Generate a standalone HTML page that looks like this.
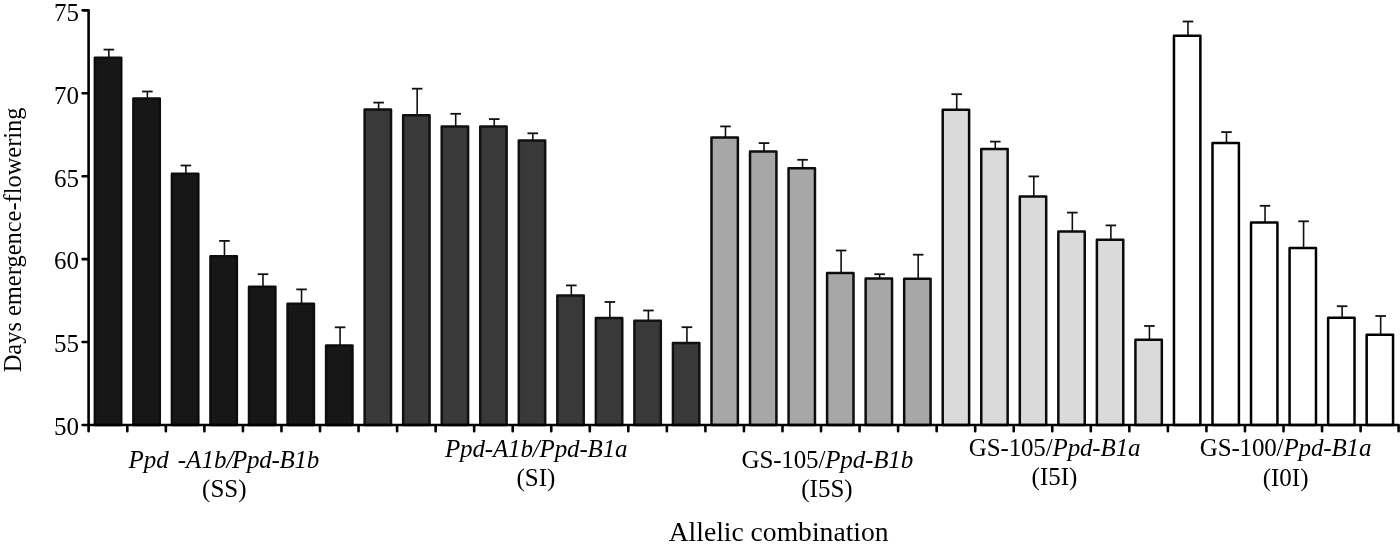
<!DOCTYPE html>
<html><head><meta charset="utf-8"><style>
html,body{margin:0;padding:0;background:#fff;}
body{width:1400px;height:547px;overflow:hidden;}
svg{display:block;}
.t{font-family:"Liberation Serif",serif;font-size:25px;fill:#000;white-space:pre;}
svg{will-change:transform;}
.i{font-style:italic;}
</style></head><body>
<svg width="1400" height="547" viewBox="0 0 1400 547">
<rect width="1400" height="547" fill="#fff"/>
<path d="M108.84 57.60V49.60" stroke="#111" stroke-width="1.6"/>
<path d="M103.54 49.60H114.14" stroke="#111" stroke-width="1.8"/>
<rect x="94.84" y="57.85" width="26.40" height="367.15" fill="#171717" stroke="#0d0d0d" stroke-width="2.5" stroke-linejoin="round"/>
<path d="M147.38 98.30V91.50" stroke="#111" stroke-width="1.6"/>
<path d="M142.08 91.50H152.68" stroke="#111" stroke-width="1.8"/>
<rect x="133.38" y="98.55" width="26.40" height="326.45" fill="#171717" stroke="#0d0d0d" stroke-width="2.5" stroke-linejoin="round"/>
<path d="M185.92 173.40V165.50" stroke="#111" stroke-width="1.6"/>
<path d="M180.62 165.50H191.22" stroke="#111" stroke-width="1.8"/>
<rect x="171.92" y="173.65" width="26.40" height="251.35" fill="#171717" stroke="#0d0d0d" stroke-width="2.5" stroke-linejoin="round"/>
<path d="M224.46 255.90V240.90" stroke="#111" stroke-width="1.6"/>
<path d="M219.16 240.90H229.76" stroke="#111" stroke-width="1.8"/>
<rect x="210.46" y="256.15" width="26.40" height="168.85" fill="#171717" stroke="#0d0d0d" stroke-width="2.5" stroke-linejoin="round"/>
<path d="M263.00 286.60V274.20" stroke="#111" stroke-width="1.6"/>
<path d="M257.70 274.20H268.30" stroke="#111" stroke-width="1.8"/>
<rect x="249.00" y="286.85" width="26.40" height="138.15" fill="#171717" stroke="#0d0d0d" stroke-width="2.5" stroke-linejoin="round"/>
<path d="M301.54 303.40V289.40" stroke="#111" stroke-width="1.6"/>
<path d="M296.24 289.40H306.84" stroke="#111" stroke-width="1.8"/>
<rect x="287.54" y="303.65" width="26.40" height="121.35" fill="#171717" stroke="#0d0d0d" stroke-width="2.5" stroke-linejoin="round"/>
<path d="M340.08 345.30V327.30" stroke="#111" stroke-width="1.6"/>
<path d="M334.78 327.30H345.38" stroke="#111" stroke-width="1.8"/>
<rect x="326.08" y="345.55" width="26.40" height="79.45" fill="#171717" stroke="#0d0d0d" stroke-width="2.5" stroke-linejoin="round"/>
<path d="M378.62 109.30V102.60" stroke="#111" stroke-width="1.6"/>
<path d="M373.32 102.60H383.92" stroke="#111" stroke-width="1.8"/>
<rect x="364.62" y="109.55" width="26.40" height="315.45" fill="#393939" stroke="#111111" stroke-width="2.5" stroke-linejoin="round"/>
<path d="M417.16 115.10V88.70" stroke="#111" stroke-width="1.6"/>
<path d="M411.86 88.70H422.46" stroke="#111" stroke-width="1.8"/>
<rect x="403.16" y="115.35" width="26.40" height="309.65" fill="#393939" stroke="#111111" stroke-width="2.5" stroke-linejoin="round"/>
<path d="M455.70 126.20V113.80" stroke="#111" stroke-width="1.6"/>
<path d="M450.40 113.80H461.00" stroke="#111" stroke-width="1.8"/>
<rect x="441.70" y="126.45" width="26.40" height="298.55" fill="#393939" stroke="#111111" stroke-width="2.5" stroke-linejoin="round"/>
<path d="M494.24 126.20V119.10" stroke="#111" stroke-width="1.6"/>
<path d="M488.94 119.10H499.54" stroke="#111" stroke-width="1.8"/>
<rect x="480.24" y="126.45" width="26.40" height="298.55" fill="#393939" stroke="#111111" stroke-width="2.5" stroke-linejoin="round"/>
<path d="M532.78 140.30V133.30" stroke="#111" stroke-width="1.6"/>
<path d="M527.48 133.30H538.08" stroke="#111" stroke-width="1.8"/>
<rect x="518.78" y="140.55" width="26.40" height="284.45" fill="#393939" stroke="#111111" stroke-width="2.5" stroke-linejoin="round"/>
<path d="M571.32 295.20V285.40" stroke="#111" stroke-width="1.6"/>
<path d="M566.02 285.40H576.62" stroke="#111" stroke-width="1.8"/>
<rect x="557.32" y="295.45" width="26.40" height="129.55" fill="#393939" stroke="#111111" stroke-width="2.5" stroke-linejoin="round"/>
<path d="M609.86 317.70V302.00" stroke="#111" stroke-width="1.6"/>
<path d="M604.56 302.00H615.16" stroke="#111" stroke-width="1.8"/>
<rect x="595.86" y="317.95" width="26.40" height="107.05" fill="#393939" stroke="#111111" stroke-width="2.5" stroke-linejoin="round"/>
<path d="M648.40 320.50V310.50" stroke="#111" stroke-width="1.6"/>
<path d="M643.10 310.50H653.70" stroke="#111" stroke-width="1.8"/>
<rect x="634.40" y="320.75" width="26.40" height="104.25" fill="#393939" stroke="#111111" stroke-width="2.5" stroke-linejoin="round"/>
<path d="M686.94 342.80V327.20" stroke="#111" stroke-width="1.6"/>
<path d="M681.64 327.20H692.24" stroke="#111" stroke-width="1.8"/>
<rect x="672.94" y="343.05" width="26.40" height="81.95" fill="#393939" stroke="#111111" stroke-width="2.5" stroke-linejoin="round"/>
<path d="M725.48 137.30V126.40" stroke="#111" stroke-width="1.6"/>
<path d="M720.18 126.40H730.78" stroke="#111" stroke-width="1.8"/>
<rect x="711.48" y="137.55" width="26.40" height="287.45" fill="#a7a7a7" stroke="#0d0d0d" stroke-width="2.5" stroke-linejoin="round"/>
<path d="M764.02 151.20V143.10" stroke="#111" stroke-width="1.6"/>
<path d="M758.72 143.10H769.32" stroke="#111" stroke-width="1.8"/>
<rect x="750.02" y="151.45" width="26.40" height="273.55" fill="#a7a7a7" stroke="#0d0d0d" stroke-width="2.5" stroke-linejoin="round"/>
<path d="M802.56 168.10V159.80" stroke="#111" stroke-width="1.6"/>
<path d="M797.26 159.80H807.86" stroke="#111" stroke-width="1.8"/>
<rect x="788.56" y="168.35" width="26.40" height="256.65" fill="#a7a7a7" stroke="#0d0d0d" stroke-width="2.5" stroke-linejoin="round"/>
<path d="M841.10 272.70V250.50" stroke="#111" stroke-width="1.6"/>
<path d="M835.80 250.50H846.40" stroke="#111" stroke-width="1.8"/>
<rect x="827.10" y="272.95" width="26.40" height="152.05" fill="#a7a7a7" stroke="#0d0d0d" stroke-width="2.5" stroke-linejoin="round"/>
<path d="M879.64 278.20V274.20" stroke="#111" stroke-width="1.6"/>
<path d="M874.34 274.20H884.94" stroke="#111" stroke-width="1.8"/>
<rect x="865.64" y="278.45" width="26.40" height="146.55" fill="#a7a7a7" stroke="#0d0d0d" stroke-width="2.5" stroke-linejoin="round"/>
<path d="M918.18 278.50V254.70" stroke="#111" stroke-width="1.6"/>
<path d="M912.88 254.70H923.48" stroke="#111" stroke-width="1.8"/>
<rect x="904.18" y="278.75" width="26.40" height="146.25" fill="#a7a7a7" stroke="#0d0d0d" stroke-width="2.5" stroke-linejoin="round"/>
<path d="M956.72 109.40V94.20" stroke="#111" stroke-width="1.6"/>
<path d="M951.42 94.20H962.02" stroke="#111" stroke-width="1.8"/>
<rect x="942.72" y="109.65" width="26.40" height="315.35" fill="#dadada" stroke="#0a0a0a" stroke-width="2.5" stroke-linejoin="round"/>
<path d="M995.26 148.70V141.60" stroke="#111" stroke-width="1.6"/>
<path d="M989.96 141.60H1000.56" stroke="#111" stroke-width="1.8"/>
<rect x="981.26" y="148.95" width="26.40" height="276.05" fill="#dadada" stroke="#0a0a0a" stroke-width="2.5" stroke-linejoin="round"/>
<path d="M1033.80 196.20V176.40" stroke="#111" stroke-width="1.6"/>
<path d="M1028.50 176.40H1039.10" stroke="#111" stroke-width="1.8"/>
<rect x="1019.80" y="196.45" width="26.40" height="228.55" fill="#dadada" stroke="#0a0a0a" stroke-width="2.5" stroke-linejoin="round"/>
<path d="M1072.34 231.20V212.60" stroke="#111" stroke-width="1.6"/>
<path d="M1067.04 212.60H1077.64" stroke="#111" stroke-width="1.8"/>
<rect x="1058.34" y="231.45" width="26.40" height="193.55" fill="#dadada" stroke="#0a0a0a" stroke-width="2.5" stroke-linejoin="round"/>
<path d="M1110.88 239.40V225.40" stroke="#111" stroke-width="1.6"/>
<path d="M1105.58 225.40H1116.18" stroke="#111" stroke-width="1.8"/>
<rect x="1096.88" y="239.65" width="26.40" height="185.35" fill="#dadada" stroke="#0a0a0a" stroke-width="2.5" stroke-linejoin="round"/>
<path d="M1149.42 339.60V326.00" stroke="#111" stroke-width="1.6"/>
<path d="M1144.12 326.00H1154.72" stroke="#111" stroke-width="1.8"/>
<rect x="1135.42" y="339.85" width="26.40" height="85.15" fill="#dadada" stroke="#0a0a0a" stroke-width="2.5" stroke-linejoin="round"/>
<path d="M1187.96 35.40V21.50" stroke="#111" stroke-width="1.6"/>
<path d="M1182.66 21.50H1193.26" stroke="#111" stroke-width="1.8"/>
<rect x="1173.96" y="35.65" width="26.40" height="389.35" fill="#ffffff" stroke="#000000" stroke-width="2.5" stroke-linejoin="round"/>
<path d="M1226.50 142.80V132.10" stroke="#111" stroke-width="1.6"/>
<path d="M1221.20 132.10H1231.80" stroke="#111" stroke-width="1.8"/>
<rect x="1212.50" y="143.05" width="26.40" height="281.95" fill="#ffffff" stroke="#000000" stroke-width="2.5" stroke-linejoin="round"/>
<path d="M1265.04 222.30V205.80" stroke="#111" stroke-width="1.6"/>
<path d="M1259.74 205.80H1270.34" stroke="#111" stroke-width="1.8"/>
<rect x="1251.04" y="222.55" width="26.40" height="202.45" fill="#ffffff" stroke="#000000" stroke-width="2.5" stroke-linejoin="round"/>
<path d="M1303.58 247.80V221.30" stroke="#111" stroke-width="1.6"/>
<path d="M1298.28 221.30H1308.88" stroke="#111" stroke-width="1.8"/>
<rect x="1289.58" y="248.05" width="26.40" height="176.95" fill="#ffffff" stroke="#000000" stroke-width="2.5" stroke-linejoin="round"/>
<path d="M1342.12 317.50V306.20" stroke="#111" stroke-width="1.6"/>
<path d="M1336.82 306.20H1347.42" stroke="#111" stroke-width="1.8"/>
<rect x="1328.12" y="317.75" width="26.40" height="107.25" fill="#ffffff" stroke="#000000" stroke-width="2.5" stroke-linejoin="round"/>
<path d="M1380.66 334.40V316.00" stroke="#111" stroke-width="1.6"/>
<path d="M1375.36 316.00H1385.96" stroke="#111" stroke-width="1.8"/>
<rect x="1366.66" y="334.65" width="26.40" height="90.35" fill="#ffffff" stroke="#000000" stroke-width="2.5" stroke-linejoin="round"/>
<path d="M82.6 10.35H88.6V431.2M82.6 93.28H88.6M82.6 176.21H88.6M82.6 259.14H88.6M82.6 342.07H88.6M82.6 425.00H88.6M88.6 425H1398.6V431.2M127.31 425V431.2M165.85 425V431.2M204.39 425V431.2M242.93 425V431.2M281.47 425V431.2M320.01 425V431.2M358.55 425V431.2M397.09 425V431.2M435.63 425V431.2M474.17 425V431.2M512.71 425V431.2M551.25 425V431.2M589.79 425V431.2M628.33 425V431.2M666.87 425V431.2M705.41 425V431.2M743.95 425V431.2M782.49 425V431.2M821.03 425V431.2M859.57 425V431.2M898.11 425V431.2M936.65 425V431.2M975.19 425V431.2M1013.73 425V431.2M1052.27 425V431.2M1090.81 425V431.2M1129.35 425V431.2M1167.89 425V431.2M1206.43 425V431.2M1244.97 425V431.2M1283.51 425V431.2M1322.05 425V431.2M1360.59 425V431.2" fill="none" stroke="#000" stroke-width="2.6" stroke-linejoin="round" stroke-linecap="round"/>
<text x="79.1" y="20.65" text-anchor="end" class="t">75</text>
<text x="79.1" y="103.58" text-anchor="end" class="t">70</text>
<text x="79.1" y="186.51" text-anchor="end" class="t">65</text>
<text x="79.1" y="269.44" text-anchor="end" class="t">60</text>
<text x="79.1" y="352.37" text-anchor="end" class="t">55</text>
<text x="79.1" y="435.30" text-anchor="end" class="t">50</text>
<text y="468" class="t i"><tspan x="128.6">Ppd</tspan><tspan x="177.8">-A1b/</tspan><tspan x="232.0" letter-spacing="-0.25">Ppd-B1b</tspan></text>
<text x="224.3" y="496.5" text-anchor="middle" class="t">(SS)</text>
<text x="536.2" y="457.3" text-anchor="middle" class="t i" letter-spacing="-0.15">Ppd-A1b/Ppd-B1a</text>
<text x="536" y="486" text-anchor="middle" class="t">(SI)</text>
<text x="827.3" y="468" text-anchor="middle" class="t" letter-spacing="-0.15">GS-105/<tspan class="i">Ppd-B1b</tspan></text>
<text x="827" y="496.5" text-anchor="middle" class="t">(I5S)</text>
<text x="1054.6" y="456" text-anchor="middle" class="t" letter-spacing="-0.15">GS-105/<tspan class="i">Ppd-B1a</tspan></text>
<text x="1054.5" y="485" text-anchor="middle" class="t">(I5I)</text>
<text x="1285.5" y="455.9" text-anchor="middle" class="t" letter-spacing="-0.15">GS-100/<tspan class="i">Ppd-B1a</tspan></text>
<text x="1285.6" y="486" text-anchor="middle" class="t">(I0I)</text>
<text x="778.6" y="540.7" text-anchor="middle" class="t" style="font-size:27.6px">Allelic combination</text>
<text transform="translate(20.8,239.9) rotate(-90)" text-anchor="middle" class="t" style="font-size:24.45px">Days emergence-flowering</text>
</svg>
</body></html>
